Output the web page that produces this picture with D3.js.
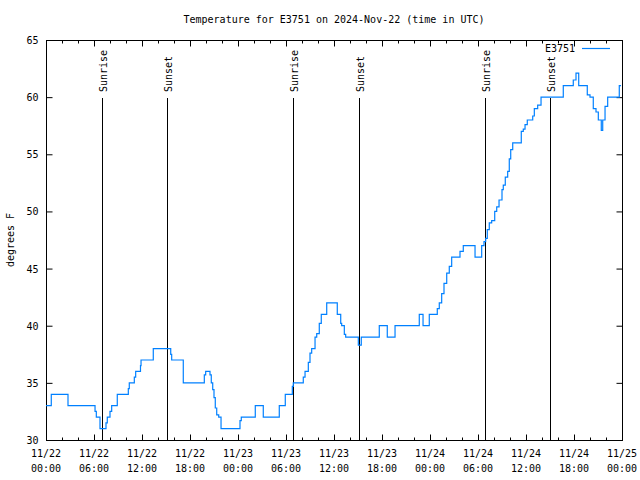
<!DOCTYPE html>
<html><head><meta charset="utf-8">
<script src="https://cdn.jsdelivr.net/npm/d3@7"></script>
<style>body{margin:0;background:#fff}svg{display:block}text{font-family:"DejaVu Sans Mono","Liberation Mono",monospace;font-size:10px;fill:#000}</style>
</head><body><svg id="c" width="640" height="480"></svg>
<script>
// hours since 2024-11-22 00:00 UTC
const hours = [0,0.5,0.66,2.54,2.75,5.91,6.13,6.29,6.54,6.75,7.38,7.5,7.66,7.88,8.0,8.21,8.71,8.91,10.16,10.29,10.41,10.91,11.04,11.21,11.71,11.81,11.88,13.21,13.41,15.41,15.59,15.71,16.96,17.16,19.66,19.79,19.96,20.38,20.5,20.66,20.84,21.0,21.16,21.34,21.59,21.88,24.16,24.25,24.41,25.91,26.16,26.91,27.16,28.91,29.16,29.66,29.91,30.59,30.79,30.91,32.04,32.16,32.38,32.59,32.79,33.0,33.21,33.63,33.84,34.16,34.41,34.91,35.09,36.21,36.41,36.84,36.96,37.29,37.46,38.91,39.04,39.25,39.41,41.41,41.66,42.41,42.66,43.29,43.63,46.41,46.66,46.88,47.13,47.66,47.91,48.71,48.91,49.16,49.46,49.75,50.09,50.41,50.71,51.54,51.75,52.16,53.29,53.63,54.16,54.46,54.75,54.96,55.16,55.41,55.71,56.09,56.34,56.63,57.0,57.16,57.41,57.71,57.91,58.09,58.34,59.16,59.41,59.66,59.88,60.16,60.66,60.84,61.04,61.46,61.88,64.46,64.66,65.71,65.91,66.25,66.59,67.5,67.66,68.0,68.41,68.75,69.04,69.41,69.59,69.88,70.21,71.41,71.66,71.88];
const temps = [33,33,34,34,33,33,32.5,32,32,31,31,31.5,32,32,32.5,33,33,34,34,34.5,35,35,35.5,36,36,36.5,37,37,38,38,37.5,37,37,35,35,35.7,36,36,35.7,35,34.4,33.7,32.8,32.2,32,31,31,31.7,32,32,33,33,32,32,33,33,34,34,34.7,35,35,35.5,36,36,36.8,37.6,38,39,39.3,40.2,41,41,42,42,41,40.2,40,39.25,39,39,38.3,38.3,39,39,40,40,39,39,40,40,41,41,40,40,41,41,41.5,42,42.8,43.7,44.6,45.2,46,46,46.5,47,47,46,46,47,47.35,47.65,48.4,49,49.2,50,50.4,51,51.9,52.3,53,53.5,54.6,55.4,56,56,57,57.2,57.6,58,58,58.35,59,59.3,60,60,61,61,61.5,62.1,61,61,60.2,60,59,58.7,58,57.1,58,59.2,60,60,61,61];
const sunHours = [7.04,15.16,30.91,39.16,54.91,63.04];
const sunLabels = ["Sunrise","Sunset","Sunrise","Sunset","Sunrise","Sunset"];
const yTicks = [30,35,40,45,50,55,60,65];
const seriesName = "E3751";
const titleText = "Temperature for E3751 on 2024-Nov-22 (time in UTC)";
const yLabel = "degrees F";

const t0 = Date.UTC(2024,10,22);
const toDate = h => new Date(t0 + h*3600e3);
const L=46,R=622,T=40,B=440;
const svg = d3.select("#c");
const x = d3.scaleUtc().domain([toDate(0),toDate(72)]).range([L,R]);
const y = d3.scaleLinear().domain([30,65]).range([B,T]);
const major = d3.utcHour.every(6).range(toDate(0),toDate(72.1));
const minor = d3.utcHour.every(2).range(toDate(0),toDate(72.1)).filter(d=>d.getUTCHours()%6!==0);
const fmtD = d3.utcFormat("%m/%d"), fmtT = d3.utcFormat("%H:%M");

function styleAxis(g){g.select(".domain").remove();g.selectAll("line").attr("stroke","#000");}
// bottom major
svg.append("g").attr("transform",`translate(0,${B+0.5})`)
 .call(d3.axisBottom(x).tickValues(major).tickSize(-6).tickPadding(10).tickFormat(""))
 .call(styleAxis);
svg.append("g").attr("transform",`translate(0,${B+0.5})`)
 .call(d3.axisBottom(x).tickValues(minor).tickSize(-3).tickFormat("")).call(styleAxis);
svg.append("g").attr("transform",`translate(0,${T+0.5})`)
 .call(d3.axisTop(x).tickValues(major).tickSize(-6).tickFormat("")).call(styleAxis);
svg.append("g").attr("transform",`translate(0,${T+0.5})`)
 .call(d3.axisTop(x).tickValues(minor).tickSize(-3).tickFormat("")).call(styleAxis);
// x labels
const xl = svg.append("g").selectAll("text").data(major).join("text")
 .attr("x",d=>x(d)).attr("y",B+17).attr("text-anchor","middle");
xl.append("tspan").attr("x",d=>x(d)).text(d=>fmtD(d));
xl.append("tspan").attr("x",d=>x(d)).attr("dy",15).text(d=>fmtT(d));
// y axes
svg.append("g").attr("transform",`translate(${L+0.5},0)`)
 .call(d3.axisLeft(y).tickValues(yTicks).tickSize(-6).tickPadding(8).tickFormat(d3.format("d")))
 .call(styleAxis).call(g=>g.selectAll("text").attr("dy","0.35em"));
svg.append("g").attr("transform",`translate(${R+0.5},0)`)
 .call(d3.axisRight(y).tickValues(yTicks).tickSize(-6).tickFormat("")).call(styleAxis);
// frame
svg.append("rect").attr("x",L+0.5).attr("y",T+0.5).attr("width",R-L).attr("height",B-T)
 .attr("fill","none").attr("stroke","#000");
// sun lines
const sg = svg.append("g").selectAll("g").data(sunHours).join("g");
sg.append("line").attr("x1",d=>Math.round(x(toDate(d)))+0.5).attr("x2",d=>Math.round(x(toDate(d)))+0.5)
 .attr("y1",98).attr("y2",B).attr("stroke","#000");
sg.append("text").attr("transform",d=>`translate(${Math.round(x(toDate(d)))+5},92) rotate(-90)`)
 .attr("text-anchor","start").text((d,i)=>sunLabels[i]);
// series
const data = hours.map((h,i)=>({d:toDate(h),v:temps[i]}));
svg.append("path").datum(data).attr("fill","none").attr("stroke","#0080ff").attr("stroke-width",1.2)
 .attr("d",d3.line().x(p=>x(p.d)).y(p=>y(p.v)).curve(d3.curveStepAfter));
// legend
svg.append("text").attr("x",575).attr("y",52).attr("text-anchor","end").text(seriesName);
svg.append("line").attr("x1",582).attr("x2",610).attr("y1",48.5).attr("y2",48.5).attr("stroke","#0080ff").attr("stroke-width",1.2);
// title & y label
svg.append("text").attr("x",(L+R)/2).attr("y",23).attr("text-anchor","middle").text(titleText);
svg.append("text").attr("transform",`translate(14,${(T+B)/2}) rotate(-90)`).attr("text-anchor","middle").text(yLabel);
</script></body></html>
